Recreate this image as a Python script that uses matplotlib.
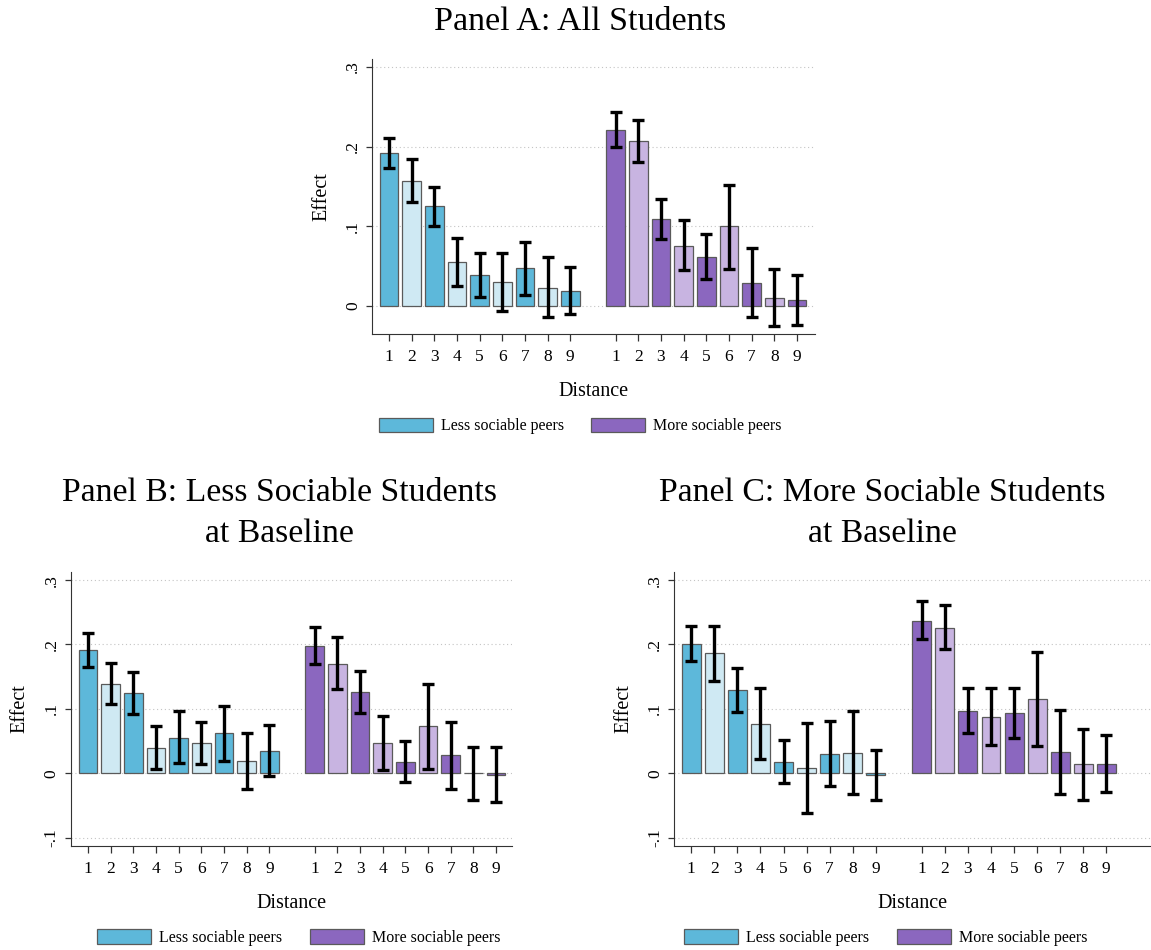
import matplotlib
matplotlib.use("Agg")
import matplotlib.pyplot as plt
from matplotlib.patches import Patch
import numpy as np

plt.rcParams['font.family'] = ['Liberation Serif', 'DejaVu Serif']

distance = [1, 2, 3, 4, 5, 6, 7, 8, 9]

# Panel A: all students
a_less = [0.192, 0.157, 0.125, 0.055, 0.039, 0.030, 0.048, 0.023, 0.019]
a_less_hi = [0.211, 0.184, 0.150, 0.085, 0.066, 0.066, 0.081, 0.061, 0.049]
a_less_lo = [0.173, 0.131, 0.100, 0.025, 0.012, -0.006, 0.014, -0.014, -0.010]
a_more = [0.221, 0.207, 0.109, 0.076, 0.062, 0.100, 0.029, 0.010, 0.008]
a_more_hi = [0.243, 0.233, 0.134, 0.108, 0.091, 0.152, 0.073, 0.046, 0.039]
a_more_lo = [0.200, 0.181, 0.084, 0.045, 0.034, 0.047, -0.014, -0.025, -0.024]

# Panel B: less sociable students at baseline
b_less = [0.191, 0.139, 0.125, 0.039, 0.055, 0.047, 0.062, 0.019, 0.035]
b_less_hi = [0.218, 0.171, 0.158, 0.073, 0.096, 0.079, 0.104, 0.062, 0.075]
b_less_lo = [0.165, 0.107, 0.092, 0.006, 0.016, 0.014, 0.019, -0.024, -0.005]
b_more = [0.198, 0.170, 0.126, 0.047, 0.018, 0.073, 0.028, 0.000, -0.002]
b_more_hi = [0.227, 0.212, 0.159, 0.089, 0.050, 0.139, 0.080, 0.041, 0.040]
b_more_lo = [0.170, 0.131, 0.093, 0.005, -0.014, 0.007, -0.024, -0.041, -0.045]

# Panel C: more sociable students at baseline
c_less = [0.201, 0.187, 0.129, 0.077, 0.018, 0.008, 0.030, 0.032, -0.002]
c_less_hi = [0.228, 0.228, 0.164, 0.132, 0.051, 0.078, 0.081, 0.097, 0.036]
c_less_lo = [0.174, 0.144, 0.095, 0.022, -0.015, -0.061, -0.020, -0.032, -0.041]
c_more = [0.237, 0.226, 0.096, 0.088, 0.093, 0.115, 0.033, 0.014, 0.015]
c_more_hi = [0.267, 0.261, 0.132, 0.132, 0.132, 0.188, 0.098, 0.068, 0.059]
c_more_lo = [0.208, 0.193, 0.063, 0.044, 0.055, 0.043, -0.033, -0.041, -0.029]

blue_dark, blue_light = '#5db8da', '#cfe9f3'
purple_dark, purple_light = '#8b67bf', '#c8b4e1'
edge = '#5a5a5a'


def draw_panel(ax, less, less_lo, less_hi, more, more_lo, more_hi, yticks, ylabels, ylim, xlim, leg_x):
    x1 = np.array(distance, dtype=float)
    x2 = x1 + 10
    cols1 = [blue_dark if d % 2 == 1 else blue_light for d in distance]
    cols2 = [purple_dark if d % 2 == 1 else purple_light for d in distance]
    ax.set_axisbelow(True)
    for y in yticks:
        ax.axhline(y, color='#c4c4c4', linestyle=(0, (1, 2.5)), linewidth=0.8, zorder=0)
    ax.bar(x1, less, width=0.82, color=cols1, edgecolor=edge, linewidth=0.9, zorder=2)
    ax.bar(x2, more, width=0.82, color=cols2, edgecolor=edge, linewidth=0.9, zorder=2)
    for xs, v, lo, hi in [(x1, less, less_lo, less_hi), (x2, more, more_lo, more_hi)]:
        v = np.array(v)
        err = [v - np.array(lo), np.array(hi) - v]
        ax.errorbar(xs, v, yerr=err, fmt='none', ecolor='black', elinewidth=2.4,
                    capsize=4, capthick=2.4, zorder=3)
    ax.set_xticks(np.concatenate([x1, x2]))
    ax.set_xticklabels([str(d) for d in distance] * 2, fontsize=12.5)
    ax.set_yticks(yticks)
    ax.set_yticklabels(ylabels, fontsize=12.5, rotation=90, va='center')
    ax.set_ylim(*ylim)
    ax.set_xlim(*xlim)
    ax.spines['top'].set_visible(False)
    ax.spines['right'].set_visible(False)
    ax.spines['left'].set_color('#333333')
    ax.spines['bottom'].set_color('#333333')
    ax.tick_params(axis='x', length=5, width=0.9, color='#333333', pad=6)
    ax.tick_params(axis='y', length=4, width=0.9, color='#333333', pad=4)
    ax.set_xlabel('Distance', fontsize=14.5, labelpad=12)
    ax.set_ylabel('Effect', fontsize=14.5, labelpad=10)
    handles = [Patch(facecolor=blue_dark, edgecolor=edge, linewidth=0.9, label='Less sociable peers'),
               Patch(facecolor=purple_dark, edgecolor=edge, linewidth=0.9, label='More sociable peers')]
    ax.legend(handles=handles, loc='center', bbox_to_anchor=(leg_x, -0.334), ncol=2, frameon=False,
              fontsize=11.5, handlelength=3.4, handleheight=1.0, handletextpad=0.5, columnspacing=1.7)


W, H = 1151, 950
fig = plt.figure(figsize=(W / 100, H / 100), dpi=100)

ax_a = fig.add_axes([372 / W, 1 - 334 / H, 443 / W, 275 / H])
draw_panel(ax_a, a_less, a_less_lo, a_less_hi, a_more, a_more_lo, a_more_hi,
           [0, 0.1, 0.2, 0.3], ['0', '.1', '.2', '.3'], (-0.035, 0.31), (0.25, 19.8), 0.47)

ax_b = fig.add_axes([70.7 / W, 1 - 846 / H, 441.3 / W, 274.3 / H])
draw_panel(ax_b, b_less, b_less_lo, b_less_hi, b_more, b_more_lo, b_more_hi,
           [-0.1, 0, 0.1, 0.2, 0.3], ['-.1', '0', '.1', '.2', '.3'], (-0.113, 0.313), (0.24, 19.7), 0.517)

ax_c = fig.add_axes([674 / W, 1 - 846 / H, 477 / W, 274.3 / H])
draw_panel(ax_c, c_less, c_less_lo, c_less_hi, c_more, c_more_lo, c_more_hi,
           [-0.1, 0, 0.1, 0.2, 0.3], ['-.1', '0', '.1', '.2', '.3'], (-0.113, 0.313), (0.25, 20.94), 0.444)

fig.text(580 / W, 1 - 22 / H, 'Panel A: All Students', fontsize=24.5, ha='center', va='center')
fig.text(279 / W, 1 - 493 / H, 'Panel B: Less Sociable Students', fontsize=24.3, ha='center', va='center')
fig.text(279 / W, 1 - 534 / H, 'at Baseline', fontsize=24.3, ha='center', va='center')
fig.text(882 / W, 1 - 493 / H, 'Panel C: More Sociable Students', fontsize=24.3, ha='center', va='center')
fig.text(882 / W, 1 - 534 / H, 'at Baseline', fontsize=24.3, ha='center', va='center')

fig.savefig('out.png', dpi=100)
